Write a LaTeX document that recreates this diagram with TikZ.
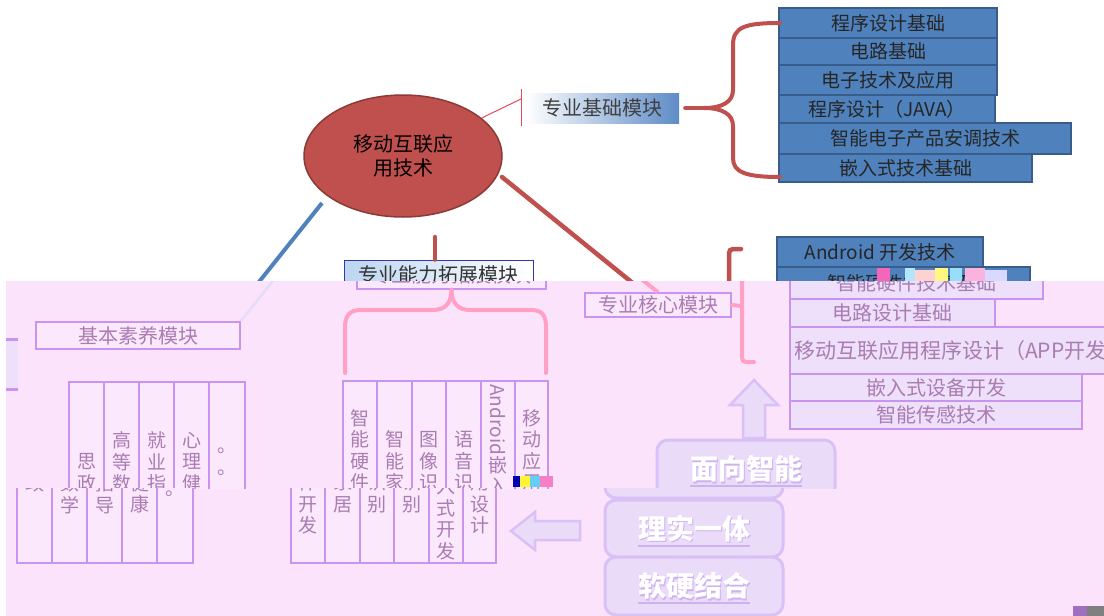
\documentclass[tikz,border=0pt]{standalone}
\usepackage{fontspec}
\setmainfont{Noto Sans CJK SC}
\usetikzlibrary{shapes.geometric}
\definecolor{listblue}{HTML}{4F81BD}
\definecolor{listborder}{HTML}{385D8A}
\definecolor{ellred}{HTML}{C0504D}
\definecolor{ellborder}{HTML}{8C3A37}
\definecolor{thinred}{HTML}{E8485A}
\definecolor{gradblue}{HTML}{5E8BC8}
\definecolor{kzblue}{HTML}{BCD5F0}
\definecolor{kzborder}{HTML}{3535A8}
\definecolor{pinkbg}{HTML}{FCE3FC}
\definecolor{fline}{HTML}{C993F0}
\definecolor{ffill}{HTML}{EEDFFA}
\definecolor{ftext}{HTML}{A97CB2}
\definecolor{fred}{HTML}{FFA0C4}
\definecolor{fblue}{HTML}{E6DCF8}
\definecolor{colfill}{HTML}{FCE8FC}
\definecolor{rbfill}{HTML}{EADBF9}
\definecolor{rbline}{HTML}{D9C0F6}
\definecolor{rbshadow}{HTML}{CDB2EF}
\definecolor{cornerpurple}{HTML}{A070C0}

\newcommand\fadedpart{%
  \coordinate (fbl0) at (322,203);
  \node[fbox, sz={204}{27}] (fjb) at (125,335.5) {基本素养模块};
  \draw[fblueline] (fbl0) -- (fjb.north east);
  \fill[ffill] (-30,339) rectangle (5,389);
  \draw[fline, line width=3pt] (-30,339) -- (5,339) (-30,389) -- (5,389);
  % basic columns
  \node[fcol, sz={35}{181}] (g1) at (73.5,472.5) {思\\政};
  \node[fcol, sz={35}{181}] (g2) at (108.5,472.5) {高\\等\\数\\学};
  \node[fcol, sz={35}{181}] (g3) at (143.5,472.5) {就\\业\\指\\导};
  \node[fcol, sz={35}{181}] (g4) at (178.5,472.5) {心\\理\\健\\康};
  \node[fcol, sz={36}{181}] (g5) at (214,472.5) {。\\。\\。};
  % extension module
  \node[fbox, sz={189}{29}] (fkz) at (438.5,274.5) {专业能力拓展模块};
  \draw[fbrace] (fkz.south) .. controls (438.5,303) and (432,310) .. (420,310) -- (348,310) .. controls (336,310) and (332,316) .. (332,328) -- (332,373);
  \draw[fbrace] (fkz.south) .. controls (438.5,303) and (445,310) .. (457,310) -- (518,310) .. controls (530,310) and (533,316) .. (533,328) -- (533,373);
  \node[fcol, sz={34}{182}] (h1) at (347,472) {智\\能\\硬\\件\\开\\发};
  \node[fcol, sz={35}{182}] (h2) at (381.5,472) {智\\能\\家\\居};
  \node[fcol, sz={34}{182}] (h3) at (416,472) {图\\像\\识\\别};
  \node[fcol, sz={35}{182}] (h4) at (450.5,472) {语\\音\\识\\别};
  \node[fcol, sz={34}{182}] (h5) at (485,472) {\rotatebox{-90}{Android}\\嵌\\入\\式\\开\\发};
  \node[fcol, sz={33}{182}] (h6) at (518.5,472) {移\\动\\应\\用\\设\\计};
  % core module
  \node[fbox, sz={146}{24}] (fhx) at (645,305) {专业核心模块};
  \coordinate (fr0) at (502,177);
  \draw[fredline] (fr0) -- (fhx.north);
  \draw[fbrace, rounded corners=4pt] (741,249) -- (729,249) -- (729,362) -- (741,362);
  \draw[fbrace] (729,306) -- (fhx.east);
  \node[flist, sz={253}{32}] (fl2) at (903.5,283) {智能硬件技术基础};
  \node[flist, sz={205}{28}] (fl3) at (879.5,313) {电路设计基础};
  \node[flist, sz={334}{47}] (fl4) at (944,350.5) {};
  \node[ftxt, anchor=west] (fl4t) at ([xshift=5pt]fl4.west) {移动互联应用程序设计（APP开发）};
  \node[flist, sz={292}{27}] (fl5) at (923,387.5) {嵌入式设备开发};
  \node[flist, sz={292}{28}] (fl6) at (923,415) {智能传感技术};
  % up arrow
  \draw[farrow] (741,380) -- (765,405) -- (752,405) -- (752,438) -- (730,438) -- (730,405) -- (717,405) -- cycle;
  % rounded boxes
  \node[rbox, sz={178}{58}] (rb1) at (733,469) {};
  \node[rbshade] at (734.5,470.5) {面向智能};
  \node[rbtext] at (rb1) {面向智能};
  \draw[rbshadow, line width=1.5pt] (677,486) -- (789,486);
  \node[rbox, sz={178}{57}] (rb2) at (733,528.5) {};
  \node[rbshade] at (734.5,530) {理实一体};
  \node[rbtext] at (rb2) {理实一体};
  \draw[rbshadow, line width=1.5pt] (677,546) -- (789,546);
  \node[rbox, sz={178}{58}] (rb3) at (733,586) {};
  \node[rbshade] at (734.5,587.5) {软硬结合};
  \node[rbtext] at (rb3) {软硬结合};
  \draw[rbshadow, line width=1.5pt] (677,603) -- (789,603);
  % left arrow
  \draw[farrow] (550,531) -- (574,512) -- (574,521) -- (619,521) -- (619,540) -- (574,540) -- (574,550) -- cycle;
}

\begin{document}
\begin{tikzpicture}[x=1pt,y=-1pt,
  sz/.style 2 args={minimum width=#1pt, minimum height=#2pt},
  blist/.style={draw=listborder, line width=1.5pt, fill=listblue, text=black!85, font=\fontsize{19pt}{22pt}\selectfont, inner sep=0pt},
  jcbox/.style={sz={153}{30}, left color=white, right color=gradblue, text=black!75, font=\fontsize{20pt}{24pt}\selectfont, inner sep=0pt},
  kzbox/.style={sz={189}{29}, draw=kzborder, line width=0.8pt, left color=kzblue, right color=white, text=black!80, font=\fontsize{20pt}{24pt}\selectfont, inner sep=0pt},
  redbrace/.style={draw=ellred, line width=4pt, line cap=round},
  redthick/.style={draw=ellred, line width=4.5pt, line cap=round},
  thinred/.style={draw=thinred, line width=1pt},
  blueline/.style={draw=listblue, line width=4pt},
  fbox/.style={draw=fline, line width=1.3pt, fill=colfill, text=ftext, font=\fontsize{20pt}{24pt}\selectfont, inner sep=0pt},
  flist/.style={draw=fline, line width=2pt, fill=ffill, text=ftext, font=\fontsize{20pt}{24pt}\selectfont, inner sep=0pt},
  ftxt/.style={text=ftext, font=\fontsize{21pt}{24pt}\selectfont, inner sep=0pt},
  fcol/.style={draw=fline, line width=1.2pt, fill=colfill, text=ftext, align=center, font=\fontsize{19pt}{21.5pt}\selectfont, inner sep=0pt},
  fblueline/.style={draw=fblue, line width=2.5pt},
  fbrace/.style={draw=fred, line width=4pt, line cap=round},
  fredline/.style={draw=fred, line width=4pt},
  farrow/.style={draw=rbline, line width=2.5pt, fill=rbfill, line join=miter},
  rbox/.style={draw=rbline, line width=3pt, fill=rbfill, rounded corners=11pt},
  rbtext/.style={text=white, font=\fontsize{28pt}{32pt}\selectfont\bfseries},
  rbshade/.style={text=rbshadow, font=\fontsize{28pt}{32pt}\selectfont\bfseries}
]
\useasboundingbox (0,0) rectangle (1104,616);
\fill[white] (0,0) rectangle (1104,616);

\begin{scope}
\clip (0,0) rectangle (1104,281);
\node[blist, sz={218}{30}] (p1) at (888,23) {程序设计基础};
\node[blist, sz={218}{27}] (p2) at (888,51.5) {电路基础};
\node[blist, sz={218}{30}] (p3) at (888,80) {电子技术及应用};
\node[blist, sz={216}{28}] (p4) at (887,109) {程序设计（JAVA）};
\node[blist, sz={292}{31}] (p5) at (925,138.5) {智能电子产品安调技术};
\node[blist, sz={253}{28}] (p6) at (905.5,168) {嵌入式技术基础};
\node[jcbox] (jc) at (602.5,108) {专业基础模块};
\coordinate (bt) at (780,23);
\coordinate (bb) at (780,177);
\coordinate (bc) at (704,108);
\draw[redbrace] (bt) .. controls (745,23) and (733,27) .. (733,45) -- (733,90) .. controls (733,102) and (722,108) .. (bc) .. controls (722,108) and (733,114) .. (733,126) -- (733,158) .. controls (733,172) and (745,177) .. (bb);
\draw[redbrace] ([xshift=6pt]jc.east) -- (bc);
\node[ellipse, draw=ellborder, line width=1.5pt, fill=ellred, sz={198}{122}, align=center, text=black, font=\fontsize{20pt}{24pt}\selectfont, inner sep=0pt] (ell) at (403,156) {移动互联应\\用技术};
\coordinate (tk) at (521,99);
\coordinate (tk1) at (521,89);
\coordinate (tk2) at (521,126);
\draw[thinred] (ell) -- (tk);
\draw[thinred] (tk1) -- (tk2);
\coordinate (bl0) at (322,203);
\coordinate (jbc) at (227,322);
\draw[blueline] (bl0) -- (jbc);
\coordinate (rv0) at (435,237);
\node[kzbox] (kz) at (438.5,274.5) {专业能力拓展模块};
\draw[redthick] (rv0) -- (rv0 |- kz.north);
\coordinate (r0) at (502,177);
\coordinate (hxn) at (645,293);
\draw[redthick] (r0) -- (hxn);
\draw[redthick, rounded corners=4pt] (741,249) -- (729,249) -- (729,362) -- (741,362);
\node[blist, sz={206}{30}] (a1) at (880,252) {Android 开发技术};
\node[blist, sz={253}{32}] (a2) at (903.5,283) {智能硬件技术基础};
\end{scope}

\fill[pinkbg] (6,281) rectangle (1104,616);

\begin{scope}
\clip (6,281) rectangle (1104,488);
\begin{scope}[xshift=13pt]
\fadedpart
\end{scope}
\end{scope}

\begin{scope}
\clip (6,488) rectangle (1104,616);
\begin{scope}[xshift=-39pt]
\fadedpart
\end{scope}
\end{scope}

% glitch noise
\fill[magenta!60] (877,268) rectangle (890,281);
\fill[cyan!30] (905,268) rectangle (915,281);
\fill[pink!70] (915,270) rectangle (935,281);
\fill[yellow!50] (935,268) rectangle (948,281);
\fill[cyan!40] (950,268) rectangle (962,281);
\fill[magenta!30] (965,268) rectangle (985,281);
\fill[blue!15] (985,270) rectangle (1007,281);
\fill[blue!70!black] (513,476) rectangle (520,487);
\fill[yellow!80] (520,476) rectangle (530,487);
\fill[cyan!60] (530,476) rectangle (540,487);
\fill[magenta!50] (540,476) rectangle (553,487);
\fill[cornerpurple] (1073,606) rectangle (1087,616);
\fill[gray] (1087,606) rectangle (1104,616);
\end{tikzpicture}
\end{document}
